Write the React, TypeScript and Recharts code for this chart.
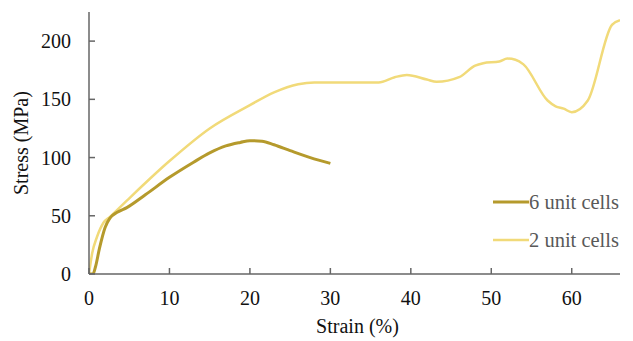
import { Line, LineChart, XAxis, YAxis } from "recharts";

// strain (%) vs stress (MPa)
const sixCellStrain = [0, 0.5, 0.8, 1.3, 2, 2.6, 3.5, 4.7, 7, 10, 13, 15, 17, 18.8, 20, 21.5, 23, 25, 27.5, 30];
const sixCellStress = [0, 0, 6, 22, 40, 48, 53, 57, 68, 83, 96, 104, 110, 113, 114.5, 114, 111, 106, 100, 95];

const twoCellStrain = [0, 0.4, 1, 1.8, 2.6, 4.7, 10, 15, 20, 23, 26, 28, 36, 38, 39.5, 42, 43.2, 46, 48, 49, 51, 52, 53, 54, 57, 58, 59, 60, 62, 65, 66];
const twoCellStress = [0, 18, 32, 44, 49, 63, 97, 125, 145, 156, 163, 164.5, 164.5, 169, 171, 167, 165, 169, 179, 181, 182.5, 185, 184, 180, 149, 144, 142, 139, 149, 214, 218];

const xTicks = [0, 10, 20, 30, 40, 50, 60];
const yTicks = [0, 50, 100, 150, 200];
const seriesNames = ["6 unit cells", "2 unit cells"];

const sixData = sixCellStrain.map((x, i) => ({ strain: x, six: sixCellStress[i] }));
const twoData = twoCellStrain.map((x, i) => ({ strain: x, two: twoCellStress[i] }));

const DARK = "#b59a2c";
const LIGHT = "#f1da79";
const AXIS = "#666666";
const FONT = "Liberation Serif, Times New Roman, serif";

function XTick(props: any) {
  const { x, y, payload } = props;
  return (
    <g>
      <line x1={x} x2={x} y1={y} y2={y - 6} stroke={AXIS} strokeWidth={1.5} />
      <text x={x} y={y + 31} textAnchor="middle" style={{ fontSize: 20, fontFamily: FONT }} fill="#111">
        {payload.value}
      </text>
    </g>
  );
}

function YTick(props: any) {
  const { x, y, payload } = props;
  return (
    <g>
      <line x1={x} x2={x + 6} y1={y} y2={y} stroke={AXIS} strokeWidth={1.5} />
      <text x={x - 18} y={y + 7} textAnchor="end" style={{ fontSize: 20, fontFamily: FONT }} fill="#111">
        {payload.value}
      </text>
    </g>
  );
}

function LegendBox() {
  const colors = [DARK, LIGHT];
  const widths = [3, 2.5];
  return (
    <svg width={140} height={70} style={{ position: "absolute", left: 493, top: 190 }}>
      {seriesNames.map((name, i) => (
        <g key={name}>
          <line x1={0} x2={36} y1={12 + i * 38} y2={12 + i * 38} stroke={colors[i]} strokeWidth={widths[i]} />
          <text x={36} y={19 + i * 38} style={{ fontSize: 20.5, fontFamily: FONT }} fill="#595959">
            {name}
          </text>
        </g>
      ))}
    </svg>
  );
}

export default function App() {
  return (
    <div style={{ position: "absolute", left: 0, top: 0, width: 633, height: 341, background: "#fff" }}>
      <LineChart width={633} height={341} margin={{ top: 12, right: 13, left: 0, bottom: 0 }}>
        <XAxis
          dataKey="strain"
          type="number"
          domain={[0, 66]}
          ticks={xTicks}
          allowDataOverflow
          height={67}
          stroke={AXIS}
          strokeWidth={1.5}
          tickLine={false}
          tickSize={0}
          tickMargin={0}
          tick={<XTick />}
          label={{ value: "Strain (%)", position: "insideBottom", offset: 8, dx: 3, style: { fontSize: 20, fontFamily: FONT }, fill: "#111" }}
        />
        <YAxis
          type="number"
          domain={[0, 225]}
          ticks={yTicks}
          allowDataOverflow
          width={89}
          stroke={AXIS}
          strokeWidth={1.5}
          tickLine={false}
          tickSize={0}
          tickMargin={0}
          tick={<YTick />}
          label={{ value: "Stress (MPa)", angle: -90, position: "insideLeft", offset: 21, dy: 52, style: { fontSize: 20, fontFamily: FONT }, fill: "#111" }}
        />
        <Line data={twoData} dataKey="two" name={seriesNames[1]} type="monotone" stroke={LIGHT} strokeWidth={2.5} dot={false} isAnimationActive={false} />
        <Line data={sixData} dataKey="six" name={seriesNames[0]} type="monotone" stroke={DARK} strokeWidth={3} dot={false} isAnimationActive={false} />
      </LineChart>
      <LegendBox />
    </div>
  );
}
